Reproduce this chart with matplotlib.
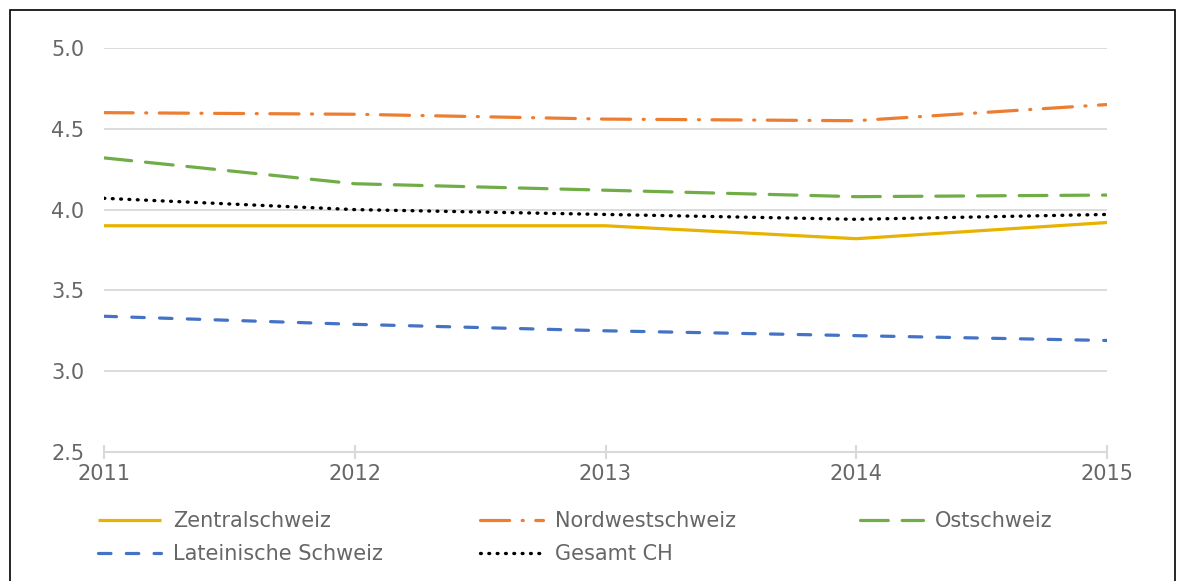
import matplotlib
matplotlib.use("Agg")
import matplotlib.pyplot as plt
from matplotlib.patches import Rectangle

years = [2011, 2012, 2013, 2014, 2015]
series_names = ["Zentralschweiz", "Nordwestschweiz", "Ostschweiz", "Lateinische Schweiz", "Gesamt CH"]
zentral = [3.90, 3.90, 3.90, 3.82, 3.92]
nordwest = [4.60, 4.59, 4.56, 4.55, 4.65]
ost = [4.32, 4.16, 4.12, 4.08, 4.09]
latein = [3.34, 3.29, 3.25, 3.22, 3.19]
gesamt = [4.07, 4.00, 3.97, 3.94, 3.97]
y_ticks = [2.5, 3.0, 3.5, 4.0, 4.5, 5.0]

plt.rcParams['lines.scale_dashes'] = False
plt.rcParams['font.family'] = ['DejaVu Sans']

fig = plt.figure(figsize=(11.8, 5.81), dpi=100)
W, H = 1180, 581
ax = fig.add_axes([104 / W, 1 - 452 / H, (1107 - 104) / W, (452 - 48) / H])

lw = 2.3
gray = '#666666'
styles = [
    dict(color='#E8B200', linestyle='-', solid_capstyle='butt'),
    dict(color='#ED7D31', linestyle=(0, (21, 9, 0.8, 9)), dash_capstyle='round'),
    dict(color='#70AD47', linestyle=(0, (20, 10)), dash_capstyle='round'),
    dict(color='#4472C4', linestyle=(0, (9, 11)), dash_capstyle='round'),
    dict(color='black', linestyle=(0, (0.6, 5.4)), dash_capstyle='round', lw=2.4),
]
data = [zentral, nordwest, ost, latein, gesamt]
handles = []
for name, vals, st in zip(series_names, data, styles):
    kw = dict(lw=lw)
    kw.update(st)
    h, = ax.plot(years, vals, label=name, **kw)
    handles.append(h)

ax.set_xlim(2011, 2015)
ax.set_ylim(2.5, 5.0)
ax.set_yticks(y_ticks)
ax.set_yticklabels([f"{v:.1f}" for v in y_ticks])
ax.set_xticks(years)
ax.set_xticklabels([str(y) for y in years])
ax.grid(axis='y', color='#D9D9D9', lw=1.3)
ax.set_axisbelow(True)
for s in ['top', 'right', 'left']:
    ax.spines[s].set_visible(False)
ax.spines['bottom'].set_color('#D9D9D9')
ax.spines['bottom'].set_linewidth(1.5)
ax.tick_params(axis='y', length=0, pad=14, labelsize=15, labelcolor=gray)
ax.tick_params(axis='x', direction='inout', length=10, width=1.5, color='#D9D9D9',
               pad=4, labelsize=15, labelcolor=gray)

# legend: three columns placed at the reference positions, row-major order
columns = [[0, 3], [1, 4], [2]]
col_x = [90, 472, 852]
for idx, x in zip(columns, col_x):
    leg = fig.legend([handles[i] for i in idx], [series_names[i] for i in idx],
                     loc='upper left', bbox_to_anchor=(x / W, 1 - 503 / H), ncol=1,
                     frameon=False, fontsize=15, handlelength=3.0, handletextpad=0.6,
                     labelspacing=0.6, borderaxespad=0, borderpad=0.4)
    for t in leg.get_texts():
        t.set_color(gray)

fig.patches.append(Rectangle((10 / W, -0.02), (1175 - 10) / W, 1.02 - 10 / H,
                             transform=fig.transFigure, fill=False, edgecolor='black', lw=1.2))

fig.savefig('out.png', dpi=100)
